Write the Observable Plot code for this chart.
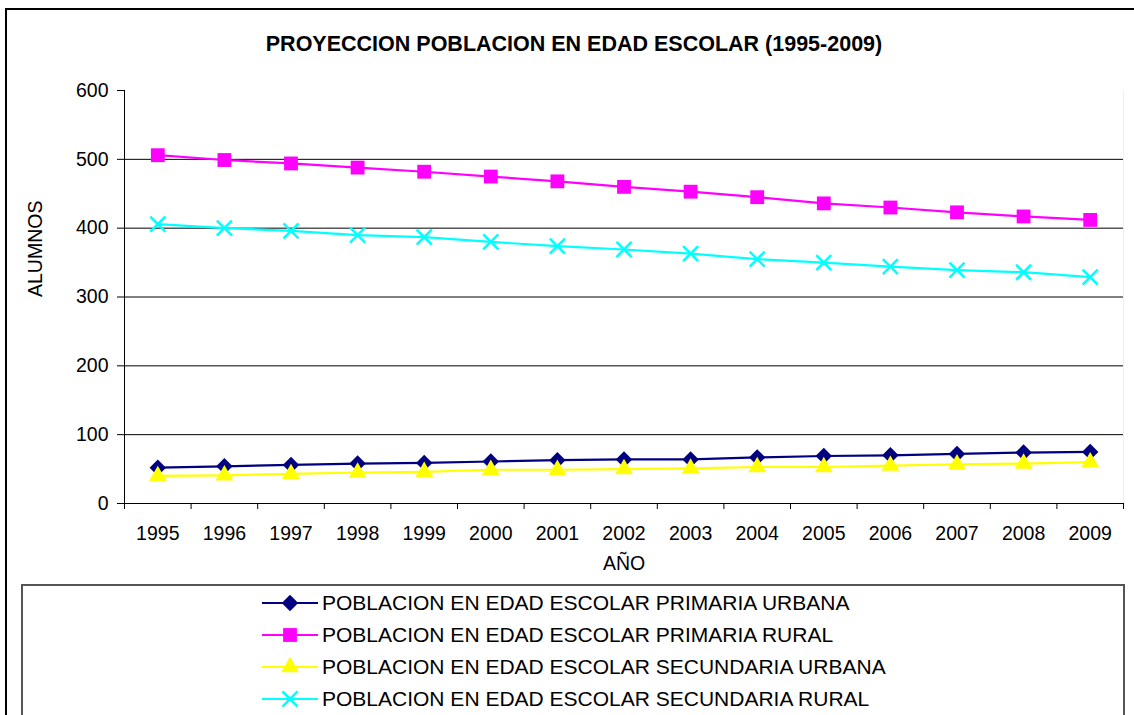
<!DOCTYPE html>
<html><head><meta charset="utf-8">
<script src="https://cdn.jsdelivr.net/npm/d3@7"></script>
<script src="https://cdn.jsdelivr.net/npm/@observablehq/plot@0.6"></script>
<style>
body{margin:0;background:#fff;font-family:"Liberation Sans",Arial,sans-serif;color:#000;}
#wrap{position:relative;width:1134px;height:715px;overflow:hidden;background:#fff;}
#frame{position:absolute;left:5px;top:8px;width:1200px;height:800px;border:2px solid #000;box-sizing:border-box;}
#title{position:absolute;top:31px;left:0;width:1148px;text-align:center;font-weight:bold;font-size:21.5px;line-height:26px;}
#chart{position:absolute;left:0;top:0;}
#legend{position:absolute;left:21px;top:584px;width:1104px;height:200px;border:2px solid #555;box-sizing:border-box;padding:1px 0 0 239px;}
.row{display:flex;align-items:center;height:32px;font-size:21px;white-space:nowrap;}
.row svg{margin-right:4px;}
</style></head>
<body>
<div id="wrap">
  <div id="frame"></div>
  <div id="title">PROYECCION POBLACION EN EDAD ESCOLAR (1995-2009)</div>
  <div id="chart"></div>
  <div id="legend"></div>
</div>
<script>
const years = [1995,1996,1997,1998,1999,2000,2001,2002,2003,2004,2005,2006,2007,2008,2009];
const seriesNames = [
  "POBLACION EN EDAD ESCOLAR PRIMARIA URBANA",
  "POBLACION EN EDAD ESCOLAR PRIMARIA RURAL",
  "POBLACION EN EDAD ESCOLAR SECUNDARIA URBANA",
  "POBLACION EN EDAD ESCOLAR SECUNDARIA RURAL"
];
const primariaUrbana   = [52, 54, 56, 58, 59, 61, 63, 64, 64, 67, 69, 70, 72, 74, 75];
const primariaRural    = [506, 499, 494, 488, 482, 475, 468, 460, 453, 445, 436, 430, 423, 417, 412];
const secundariaUrbana = [40, 41, 43, 45, 46, 49, 49, 50, 51, 53, 53, 55, 57, 58, 60];
const secundariaRural  = [406, 400, 396, 390, 387, 380, 374, 369, 363, 355, 350, 344, 339, 336, 329];
const yTicks = [0, 100, 200, 300, 400, 500, 600];
const gridValues = [100, 200, 300, 400, 500];
const colors = ["#000080", "#FF00FF", "#FFFF00", "#00FFFF"];
const symbols = ["diamond2", "square", "triangle", "times"];
const symbolR = [7.4, 7.8, 6.6, 6.9];
const symbolFilled = [true, true, true, false];

const allValues = [primariaUrbana, primariaRural, secundariaUrbana, secundariaRural];
const data = seriesNames.flatMap((name, k) => years.map((yr, i) => ({year: yr, value: allValues[k][i], name})));
const x0 = years[0] - 0.5, x1 = years[years.length - 1] + 0.5;
const boundaries = [...years.map(y => y - 0.5), x1];
const font = '"Liberation Sans", Arial, sans-serif';

const marks = [
  Plot.ruleY(gridValues, {stroke: "#000", strokeWidth: 1}),
  Plot.ruleX([x1], {y1: 0, y2: 600, stroke: "#eee", strokeWidth: 1}),
  Plot.axisY({ticks: yTicks, tickSize: 7, tickPadding: 9, label: null, tickFormat: d => String(d), stroke: "#000", fill: "#000", fontSize: 19.5}),
  Plot.axisX({ticks: boundaries, tickSize: 6, tickFormat: () => "", label: null, stroke: "#000"}),
  Plot.axisX({ticks: years, tickSize: 0, tickPadding: 23, tickFormat: d => String(d), label: null, fill: "#000", fontSize: 19.5}),
  Plot.ruleX([x0], {y1: 0, y2: 600, stroke: "#000", strokeWidth: 1}),
  Plot.ruleY([0], {stroke: "#000", strokeWidth: 1}),
  Plot.text(["ALUMNOS"], {frameAnchor: "left", dx: -89, rotate: -90, fontSize: 19.5, fill: "#000"}),
  Plot.text(["AÑO"], {frameAnchor: "bottom", dy: 66, fontSize: 19.5, fill: "#000"})
];
seriesNames.forEach((name, k) => {
  const d = data.filter(r => r.name === name);
  marks.push(Plot.line(d, {x: "year", y: "value", stroke: colors[k], strokeWidth: 2.2}));
});
seriesNames.forEach((name, k) => {
  const d = data.filter(r => r.name === name);
  marks.push(Plot.dot(d, {x: "year", y: "value", symbol: () => symbols[k], r: symbolR[k],
    fill: symbolFilled[k] ? colors[k] : "none", stroke: symbolFilled[k] ? "none" : colors[k], strokeWidth: symbolFilled[k] ? 0 : 2.5}));
});

const chart = Plot.plot({
  width: 1134, height: 580,
  marginLeft: 124, marginRight: 11, marginTop: 90, marginBottom: 77,
  x: {type: "linear", domain: [x0, x1]},
  y: {domain: [0, 600]},
  symbol: {type: "identity"},
  style: {fontFamily: font, fontSize: "19.5px", color: "#000", background: "transparent", overflow: "visible"},
  marks
});
document.getElementById("chart").appendChild(chart);

// legend
const legend = d3.select("#legend");
const symMap = {diamond2: d3.symbolDiamond2, square: d3.symbolSquare, triangle: d3.symbolTriangle, times: d3.symbolTimes};
seriesNames.forEach((name, k) => {
  const row = legend.append("div").attr("class", "row");
  const svg = row.append("svg").attr("width", 56).attr("height", 22);
  svg.append("line").attr("x1", 0).attr("x2", 56).attr("y1", 11).attr("y2", 11)
    .attr("stroke", colors[k]).attr("stroke-width", 2.2);
  svg.append("path").attr("transform", "translate(28,11)")
    .attr("d", d3.symbol(symMap[symbols[k]], Math.PI * symbolR[k] * symbolR[k])())
    .attr("fill", symbolFilled[k] ? colors[k] : "none")
    .attr("stroke", symbolFilled[k] ? "none" : colors[k])
    .attr("stroke-width", 2.5);
  row.append("span").text(name);
});
</script>
</body></html>
